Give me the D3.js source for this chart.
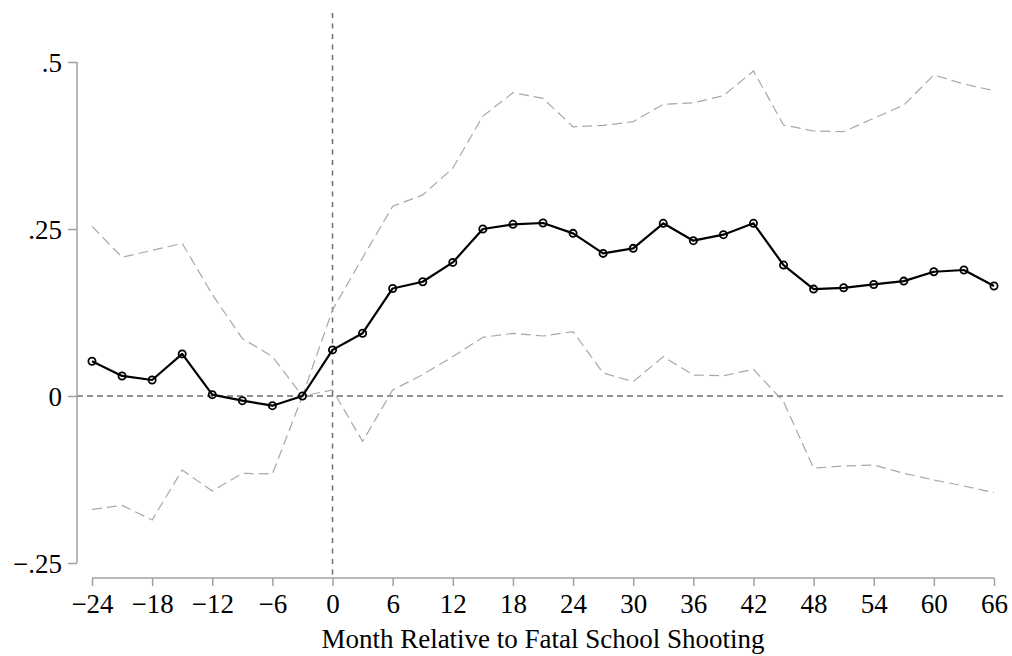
<!DOCTYPE html>
<html>
<head>
<meta charset="utf-8">
<script src="https://cdn.jsdelivr.net/npm/d3@7"></script>
<style>
  html, body { margin: 0; padding: 0; background: #fff; }
  svg { display: block; }
  text { font-family: "Liberation Serif", "Times New Roman", serif; fill: #000; }
</style>
</head>
<body>
<svg id="chart" width="1012" height="656"></svg>
<script>
// Event-study estimates by month relative to the shooting
const months = [-24, -21, -18, -15, -12, -9, -6, -3, 0, 3, 6, 9, 12, 15, 18, 21, 24, 27, 30, 33, 36, 39, 42, 45, 48, 51, 54, 57, 60, 63, 66];
const estimate = [0.052, 0.030, 0.024, 0.063, 0.002, -0.007, -0.0145, 0.000, 0.069, 0.094, 0.161, 0.171, 0.200, 0.250, 0.257, 0.259, 0.2435, 0.2135, 0.221, 0.2585, 0.2325, 0.2415, 0.2585, 0.196, 0.160, 0.162, 0.167, 0.172, 0.186, 0.1886, 0.1647];
const upperCI = [0.254, 0.2076, 0.218, 0.2285, 0.152, 0.086, 0.059, 0.000, 0.129, 0.207, 0.284, 0.301, 0.341, 0.419, 0.454, 0.4456, 0.403, 0.405, 0.4106, 0.4366, 0.439, 0.4496, 0.4865, 0.4057, 0.3967, 0.3957, 0.4157, 0.4356, 0.4805, 0.467, 0.457];
const lowerCI = [-0.1697, -0.1637, -0.1856, -0.1108, -0.1422, -0.1158, -0.1168, 0.000, 0.009, -0.068, 0.009, 0.032, 0.059, 0.0878, 0.0938, 0.0898, 0.0963, 0.0345, 0.0214, 0.0589, 0.0314, 0.0304, 0.040, -0.0085, -0.108, -0.1048, -0.1033, -0.1158, -0.1257, -0.1347, -0.1447];

const xTicks = [-24, -18, -12, -6, 0, 6, 12, 18, 24, 30, 36, 42, 48, 54, 60, 66];
const yTicks = [-0.25, 0, 0.25, 0.5];
const yTickLabels = ["\u2212.25", "0", ".25", ".5"];
const xTitle = "Month Relative to Fatal School Shooting";

const svg = d3.select("#chart");
const fontSize = 27;

const x = d3.scaleLinear().domain([-24, 66]).range([92, 994]);
const y = d3.scaleLinear().domain([-0.25, 0.5]).range([563, 62]);

const axisColor = "#a0a0a0";

// Reference lines at zero
svg.append("line")
  .attr("x1", 77).attr("x2", 1007)
  .attr("y1", y(0)).attr("y2", y(0))
  .attr("stroke", "#6e6e6e").attr("stroke-width", 1.5)
  .attr("stroke-dasharray", "6,4");
svg.append("line")
  .attr("x1", x(0)).attr("x2", x(0))
  .attr("y1", 13).attr("y2", 578)
  .attr("stroke", "#6e6e6e").attr("stroke-width", 1.5)
  .attr("stroke-dasharray", "5,5.5");

// Y axis
const yAxis = d3.axisLeft(y)
  .tickValues(yTicks)
  .tickSize(9)
  .tickPadding(6)
  .tickFormat((d, i) => yTickLabels[i]);
const gy = svg.append("g").attr("transform", "translate(77,0)").call(yAxis);
gy.select(".domain").attr("stroke", axisColor).attr("stroke-width", 1.5)
  .attr("d", `M0,${y(0.5)}V${y(-0.25)}`);
gy.selectAll(".tick line").attr("stroke", axisColor).attr("stroke-width", 1.5);
gy.selectAll(".tick text")
  .attr("font-size", fontSize).attr("fill", "#000")
  .attr("dy", "0.34em");

// X axis
const xAxis = d3.axisBottom(x)
  .tickValues(xTicks)
  .tickSize(8)
  .tickPadding(8)
  .tickFormat(d => d < 0 ? "\u2212" + Math.abs(d) : String(d));
const gx = svg.append("g").attr("transform", "translate(0,578)").call(xAxis);
gx.select(".domain").attr("stroke", axisColor).attr("stroke-width", 1.5)
  .attr("d", `M${x(-24)},0H${x(66)}`);
gx.selectAll(".tick line").attr("stroke", axisColor).attr("stroke-width", 1.5);
gx.selectAll(".tick text")
  .attr("font-size", fontSize).attr("fill", "#000")
  .attr("dy", "0.7em");

// Axis title
svg.append("text")
  .attr("x", (x(-24) + x(66)) / 2)
  .attr("y", 648)
  .attr("text-anchor", "middle")
  .attr("font-size", fontSize)
  .text(xTitle);

// Confidence bands
const line = d3.line().x(d => x(d[0])).y(d => y(d[1]));
[upperCI, lowerCI].forEach(series => {
  svg.append("path")
    .datum(months.map((m, i) => [m, series[i]]))
    .attr("d", line)
    .attr("fill", "none")
    .attr("stroke", "#a8a8a8")
    .attr("stroke-width", 1.2)
    .attr("stroke-dasharray", "10,5");
});

// Point estimates
const pts = months.map((m, i) => [m, estimate[i]]);
svg.append("path")
  .datum(pts)
  .attr("d", line)
  .attr("fill", "none")
  .attr("stroke", "#000")
  .attr("stroke-width", 2.2)
  .attr("stroke-linejoin", "round");
svg.append("g").selectAll("circle")
  .data(pts)
  .join("circle")
  .attr("cx", d => x(d[0]))
  .attr("cy", d => y(d[1]))
  .attr("r", 3.6)
  .attr("fill", "none")
  .attr("stroke", "#000")
  .attr("stroke-width", 1.8);
</script>
</body>
</html>
